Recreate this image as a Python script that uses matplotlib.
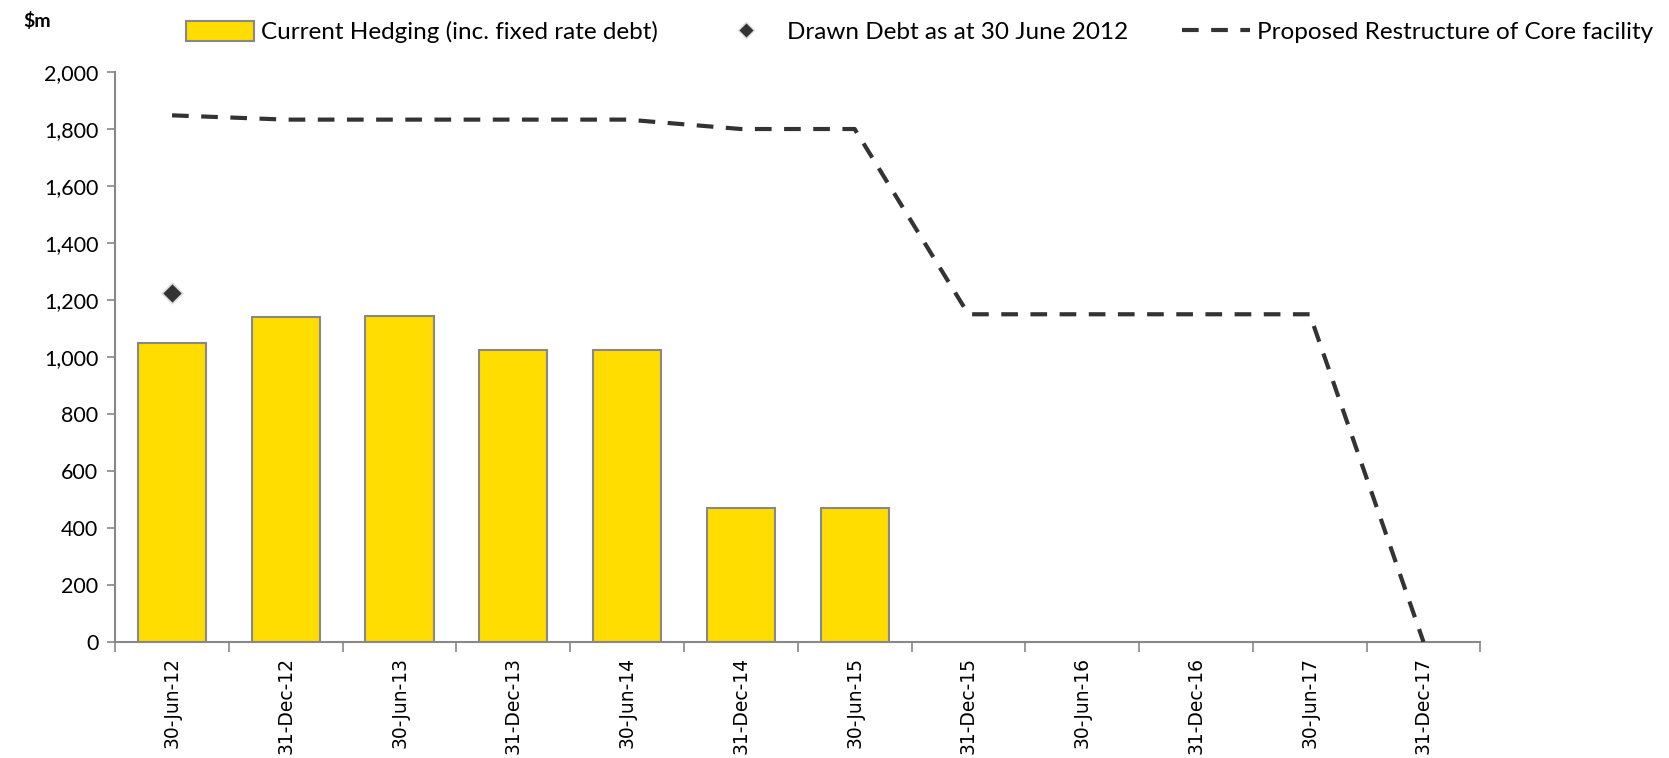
import numpy as np
import matplotlib
matplotlib.use("Agg")
import matplotlib.pyplot as plt
from matplotlib.lines import Line2D
from matplotlib.patches import Patch

# data
periods = ["30-Jun-12", "31-Dec-12", "30-Jun-13", "31-Dec-13", "30-Jun-14", "31-Dec-14",
           "30-Jun-15", "31-Dec-15", "30-Jun-16", "31-Dec-16", "30-Jun-17", "31-Dec-17"]
hedging = [1048, 1142, 1145, 1023, 1023, 470, 470, 0, 0, 0, 0, 0]
drawn_debt = 1223
core_facility = [1848, 1833, 1833, 1833, 1833, 1800, 1800, 1150, 1150, 1150, 1150, 0]
y_ticks = [0, 200, 400, 600, 800, 1000, 1200, 1400, 1600, 1800, 2000]

label_font = "Lato"
grey = "#888888"

fig = plt.figure(figsize=(16.69, 7.58), dpi=100)
ax = fig.add_axes([0.069, 0.153, 0.818, 0.752])

x = np.arange(len(periods))
n_bars = sum(1 for v in hedging if v > 0)
ax.bar(x[:n_bars], hedging[:n_bars], width=0.6, color="#FFDD00", edgecolor=grey, linewidth=1.5, zorder=2)
ax.plot(x, core_facility, color="#333333", linewidth=3, dashes=(4, 3), zorder=3)
ax.scatter([0], [drawn_debt], marker="D", s=110, color="#333333", edgecolor="#dddddd", linewidth=1.2, zorder=4)

ax.set_xlim(-0.5, len(periods) - 0.5)
ax.set_ylim(0, 2000)

ax.set_yticks(y_ticks)
ax.set_yticklabels([f"{v:,}" for v in y_ticks])
ax.set_xticks(x)
ax.set_xticklabels(periods)
ax.set_xticks(np.arange(-0.5, len(periods)), minor=True)

ax.tick_params(axis="y", length=6, color=grey, width=1.2, pad=6,
               labelsize=15.5, labelfontfamily=label_font)
ax.tick_params(axis="x", which="major", length=0, pad=11, labelrotation=90,
               labelsize=13.5, labelfontfamily="DejaVu Sans")
ax.tick_params(axis="x", which="minor", length=7, color=grey, width=1.2)

for side in ["top", "right"]:
    ax.spines[side].set_visible(False)
for side in ["left", "bottom"]:
    ax.spines[side].set_color(grey)
    ax.spines[side].set_linewidth(1.5)

fig.text(0.014, 0.972, "$m", fontsize=14, fontweight="bold", family=label_font, va="center")

handles = [
    Patch(facecolor="#FFDD00", edgecolor=grey, linewidth=1.5),
    Line2D([], [], marker="D", color="#333333", markersize=8, linestyle="none",
           markeredgecolor="#dddddd"),
    Line2D([], [], color="#333333", linewidth=3, dashes=(4, 3)),
]
labels = ["Current Hedging (inc. fixed rate debt)", "Drawn Debt as at 30 June 2012",
          "Proposed Restructure of Core facility"]
fig.legend(handles, labels, loc="center", bbox_to_anchor=(0.551, 0.958), ncol=3, frameon=False,
           prop={"family": label_font, "size": 17.5}, handlelength=2.8, handleheight=0.9,
           columnspacing=2.2, handletextpad=0.3)

fig.savefig("out.png", dpi=100)
